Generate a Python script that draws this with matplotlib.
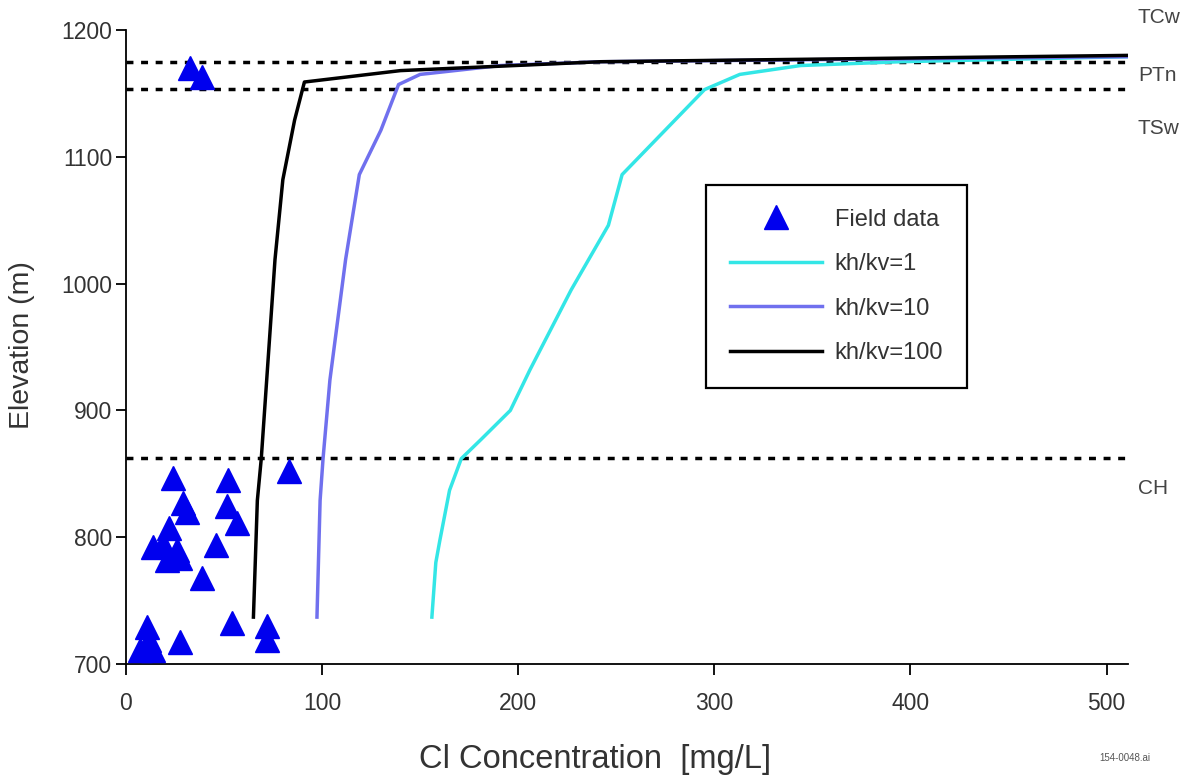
import matplotlib.pyplot as plt
import numpy as np

plt.rcParams["font.family"] = ["Liberation Sans", "DejaVu Sans"]

# field data (Cl mg/L, elevation m)
field_cl = [24, 52, 83, 29, 31, 51.5, 56.6, 22, 19, 14, 26, 21, 27.5, 46, 39,
            10.5, 12, 7, 14, 27.5, 54, 72, 72, 32.7, 39]
field_elev = [847, 845, 852, 827, 820, 825, 811, 807, 795, 792, 790, 782, 784, 794, 768,
              729, 719, 711, 711, 717, 732, 730, 719, 1170, 1163]

# model curves
kv1_cl = [156, 158, 160, 165, 171, 181, 196, 206, 227, 246, 253, 295, 313, 344, 395, 511]
kv1_elev = [737, 780, 797, 837, 862, 877, 900, 932, 995, 1046, 1086, 1153, 1165, 1172, 1175, 1179]

kv10_cl = [97.4, 99, 100.5, 104, 112, 119, 130, 139, 150, 191, 242, 511]
kv10_elev = [737, 829, 862, 924, 1019, 1086, 1121, 1157, 1165, 1172, 1175, 1179]

kv100_cl = [65, 67, 69, 76, 80, 86, 91, 140, 242, 511]
kv100_elev = [737, 829, 862, 1019, 1082, 1129, 1159, 1168, 1175, 1180]

# unit boundaries
bound_elev = [1175, 1153.5, 862.5]
unit_labels = ["TCw", "PTn", "TSw", "CH"]
unit_label_elev = [1209.5, 1164.5, 1122.7, 838.8]

fig = plt.figure(figsize=(11.95, 7.78), dpi=100)
ax = fig.add_axes([0.1054, 0.1465, 0.8386, 0.8149])

for e in bound_elev:
    ax.axhline(e, color="black", linestyle=(0, (2, 2.2)), linewidth=2.5, zorder=1)

ax.plot(field_cl, field_elev, linestyle="none", marker="^", markersize=17,
        color="#0000ee", label="Field data", zorder=3, clip_on=False)
ax.plot(kv1_cl, kv1_elev, color="#33e6e6", linewidth=2.5, label="kh/kv=1", zorder=2)
ax.plot(kv10_cl, kv10_elev, color="#7070ee", linewidth=2.5, label="kh/kv=10", zorder=2)
ax.plot(kv100_cl, kv100_elev, color="black", linewidth=2.5, label="kh/kv=100", zorder=2)

ax.set_xlim(0, 511)
ax.set_ylim(700, 1200)
ax.set_xticks(np.arange(0, 501, 100))
ax.set_yticks(np.arange(700, 1201, 100))
ax.tick_params(labelsize=16.5, colors="#333333", direction="out", width=1.3)
ax.tick_params(axis="y", length=7, pad=3, color="black")
ax.tick_params(axis="x", length=8, pad=12, color="black")
for s in ["top", "right"]:
    ax.spines[s].set_visible(False)
for s in ["left", "bottom"]:
    ax.spines[s].set_linewidth(1.3)

ax.set_xlabel("Cl Concentration  [mg/L]", fontsize=23.5, color="#333333", va="center")
ax.xaxis.set_label_coords(0.468, -0.151)
ax.set_ylabel("Elevation (m)", fontsize=20.5, color="#333333", va="center")
ax.yaxis.set_label_coords(-0.104, 0.503)

for lab, e in zip(unit_labels, unit_label_elev):
    ax.text(516, e, lab, fontsize=15, color="#444444", va="center", ha="left", clip_on=False)

leg = ax.legend(loc="upper left", bbox_to_anchor=(0.579, 0.7555), fontsize=17,
                frameon=True, fancybox=False, edgecolor="black", borderpad=1.0,
                borderaxespad=0, labelspacing=0.95, handlelength=3.9,
                handletextpad=0.55, markerscale=1.0)
leg.get_frame().set_linewidth(1.6)
leg.get_frame().set_alpha(1)
for t in leg.get_texts():
    t.set_color("#333333")

fig.text(0.963, 0.022, "154-0048.ai", fontsize=7, color="#555555", ha="right")

fig.savefig("out.png", dpi=100)
